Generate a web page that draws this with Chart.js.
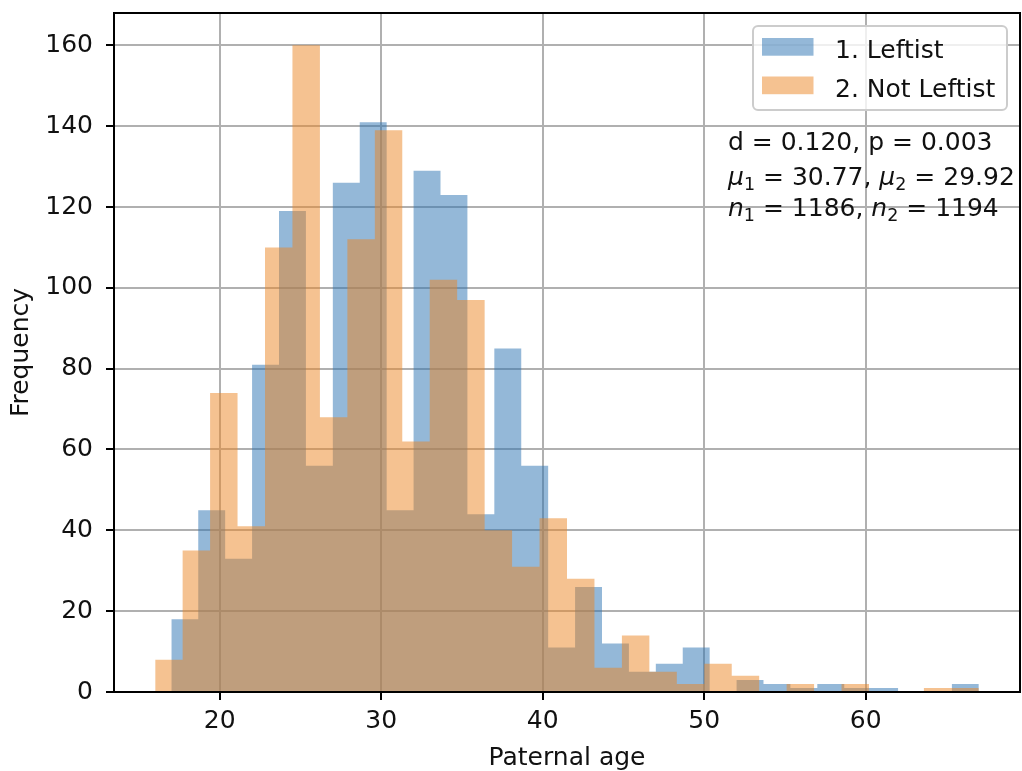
<!DOCTYPE html>
<html>
<head>
<meta charset="utf-8">
<script src="https://cdn.jsdelivr.net/npm/chart.js@4.4.0/dist/chart.umd.min.js"></script>
<style>
  html, body { margin: 0; padding: 0; background: #fff; }
  canvas { display: block; }
</style>
</head>
<body>
<canvas id="histogram" width="1022" height="771"></canvas>
<script>
// histogram counts, 30 bins per group
var leftistCounts = [18, 45, 33, 81, 119, 56, 126, 141, 45, 129, 123, 44, 85, 56, 11, 26, 12, 5, 7, 11, 0, 3, 2, 1, 2, 1, 1, 0, 0, 2];
var notLeftistCounts = [8, 35, 74, 41, 110, 160, 68, 112, 139, 62, 102, 97, 40, 31, 43, 28, 6, 14, 5, 2, 7, 4, 0, 2, 0, 2, 0, 0, 1, 1];
// range of paternal age covered by the bins of each group
var leftistRange = [17, 67];
var notLeftistRange = [16, 67];
var seriesLabels = ['1. Leftist', '2. Not Leftist'];
var xTicks = [20, 30, 40, 50, 60];
var yTicks = [0, 20, 40, 60, 80, 100, 120, 140, 160];
var statLines = [
  [{ t: 'd = 0.120, p = 0.003' }],
  [{ t: 'μ', it: true }, { t: '1', sub: true }, { t: ' = 30.77, ' }, { t: 'μ', it: true }, { t: '2', sub: true }, { t: ' = 29.92' }],
  [{ t: 'n', it: true }, { t: '1', sub: true }, { t: ' = 1186, ' }, { t: 'n', it: true }, { t: '2', sub: true }, { t: ' = 1194' }]
];

var blueFill = 'rgba(41, 114, 177, 0.5)';
var orangeFill = 'rgba(236, 133, 36, 0.5)';
var FONT = '"DejaVu Sans", sans-serif';

// bin edges -> step points (left edge of each bin carries its count)
function histPoints(counts, range) {
  var w = (range[1] - range[0]) / counts.length;
  var pts = counts.map(function(c, i) { return { x: range[0] + i * w, y: c }; });
  pts.push({ x: range[1], y: 0 });
  return pts;
}

var lo = Math.min(leftistRange[0], notLeftistRange[0]);
var hi = Math.max(leftistRange[1], notLeftistRange[1]);
var yTop = Math.max.apply(null, leftistCounts.concat(notLeftistCounts)) * 1.05;

function drawRuns(ctx, x, y, runs) {
  runs.forEach(function(r) {
    var size = r.sub ? 17.5 : 25;
    ctx.font = (r.it ? 'italic ' : '') + size + 'px ' + FONT;
    ctx.fillText(r.t, x, y + (r.sub ? 5 : 0));
    x += ctx.measureText(r.t).width;
  });
}

function roundRect(ctx, x, y, w, h, r) {
  ctx.beginPath();
  ctx.moveTo(x + r, y);
  ctx.arcTo(x + w, y, x + w, y + h, r);
  ctx.arcTo(x + w, y + h, x, y + h, r);
  ctx.arcTo(x, y + h, x, y, r);
  ctx.arcTo(x, y, x + w, y, r);
  ctx.closePath();
}

// frame on all four sides, legend box and stats text
var overlay = {
  id: 'overlay',
  afterDraw: function(chart) {
    var ctx = chart.ctx;
    var a = chart.chartArea;
    ctx.save();
    ctx.strokeStyle = '#000';
    ctx.lineWidth = 2;
    ctx.strokeRect(a.left, a.top, a.right - a.left, a.bottom - a.top);

    // legend
    var lx = a.right - 267, ly = a.top + 13;
    roundRect(ctx, lx, ly, 254, 84, 5);
    ctx.fillStyle = 'rgba(255, 255, 255, 0.8)';
    ctx.fill();
    ctx.strokeStyle = '#cccccc';
    ctx.lineWidth = 2;
    ctx.stroke();
    [blueFill, orangeFill].forEach(function(col, i) {
      var rowY = ly + 12 + i * 38.5;
      ctx.fillStyle = col;
      ctx.fillRect(lx + 9, rowY, 51.5, 17.7);
      ctx.fillStyle = '#111';
      ctx.font = '25px ' + FONT;
      ctx.textBaseline = 'alphabetic';
      ctx.fillText(seriesLabels[i], lx + 82, rowY + 20);
    });

    // stats
    ctx.fillStyle = '#111';
    var baselines = [137, 172, 202.7];
    statLines.forEach(function(runs, i) {
      drawRuns(ctx, a.left + 614, a.top + baselines[i], runs);
    });
    ctx.restore();
  }
};

function histogram() {
  var ctx = document.getElementById('histogram');
  var myChart = new Chart(ctx, {
    type: 'line',
    data: {
      datasets: [{
        label: seriesLabels[0],
        data: histPoints(leftistCounts, leftistRange),
        backgroundColor: blueFill,
        borderColor: 'transparent',
        borderWidth: 0,
        pointRadius: 0,
        stepped: 'before',
        fill: 'origin',
        order: 2
      }, {
        label: seriesLabels[1],
        data: histPoints(notLeftistCounts, notLeftistRange),
        backgroundColor: orangeFill,
        borderColor: 'transparent',
        borderWidth: 0,
        pointRadius: 0,
        stepped: 'before',
        fill: 'origin',
        order: 1
      }]
    },
    options: {
      responsive: false,
      animation: false,
      events: [],
      layout: { padding: { top: 13, right: 2, left: 0, bottom: 0 } },
      scales: {
        x: {
          type: 'linear',
          min: lo - 0.05 * (hi - lo),
          max: hi + 0.05 * (hi - lo),
          z: 1,
          afterBuildTicks: function(s) { s.ticks = xTicks.map(function(v) { return { value: v }; }); },
          afterFit: function(s) { s.height = 79; },
          ticks: { color: '#111', padding: 6, font: { family: FONT, size: 25 } },
          grid: { color: '#b0b0b0', lineWidth: 2, tickColor: '#000', tickWidth: 2, tickLength: 8 },
          border: { display: true, color: '#000', width: 2 },
          title: {
            display: true, text: 'Paternal age', color: '#111',
            font: { family: FONT, size: 25, lineHeight: 1.04 },
            padding: { top: 0, bottom: 0 }
          }
        },
        y: {
          min: 0,
          max: yTop,
          z: 1,
          afterBuildTicks: function(s) { s.ticks = yTicks.map(function(v) { return { value: v }; }); },
          afterFit: function(s) { s.width = 114; s.paddingTop = 0; s.paddingBottom = 0; },
          ticks: { color: '#111', padding: 13, font: { family: FONT, size: 25 } },
          grid: { color: '#b0b0b0', lineWidth: 2, tickColor: '#000', tickWidth: 2, tickLength: 8 },
          border: { display: true, color: '#000', width: 2 },
          title: {
            display: true, text: 'Frequency', color: '#111',
            font: { family: FONT, size: 25, lineHeight: 1.2 },
            padding: { top: 6, bottom: 0 }
          }
        }
      },
      plugins: {
        legend: { display: false },
        tooltip: { enabled: false }
      }
    },
    plugins: [overlay]
  });
}

window.onload = function() {
  histogram();
};
</script>
</body>
</html>
